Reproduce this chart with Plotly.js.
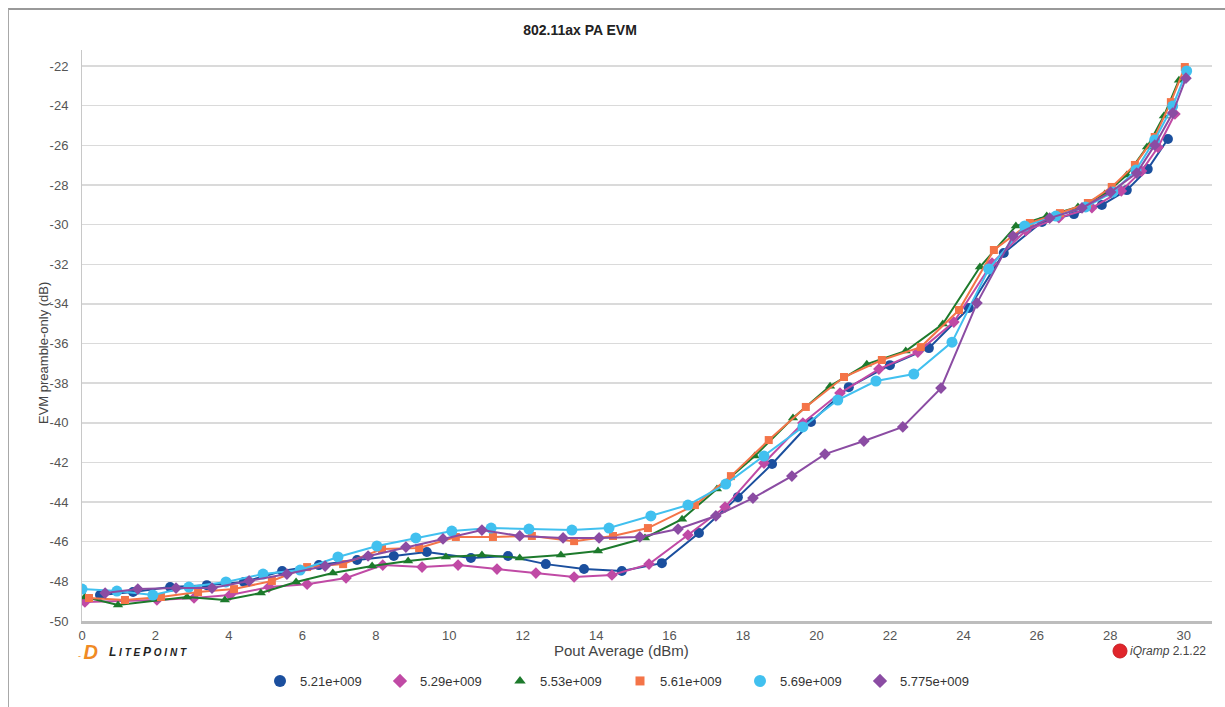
<!DOCTYPE html>
<html>
<head>
<meta charset="utf-8">
<script src="https://cdn.plot.ly/plotly-3.0.1.min.js"></script>
<style>
  html, body { margin: 0; padding: 0; background: #fff; }
  #chart { position: absolute; left: 0; top: 0; width: 1225px; height: 707px; }
  #frame { position: absolute; left: 8px; top: 8px; width: 1300px; height: 800px;
           border-left: 1px solid #a8a8a8; border-top: 2px solid #999; pointer-events: none; }
</style>
</head>
<body>
<div id="chart"></div>
<div id="frame"></div>
<script>
// ---- data ----
const seriesNames = ["5.21e+009", "5.29e+009", "5.53e+009", "5.61e+009", "5.69e+009", "5.775e+009"];

const x521 = [0.49, 1.39, 2.40, 3.40, 4.41, 5.45, 6.45, 7.49, 8.49, 9.39, 10.59, 11.60, 12.63, 13.67, 14.70, 15.79, 16.80, 17.86, 18.79, 19.85, 20.88, 22.00, 23.06, 24.15, 25.10, 26.14, 27.01, 27.77, 28.45, 29.02, 29.57];
const y521 = [-48.69, -48.54, -48.29, -48.19, -48.03, -47.48, -47.18, -46.92, -46.72, -46.52, -46.82, -46.72, -47.13, -47.38, -47.48, -47.08, -45.56, -43.75, -42.08, -39.96, -38.20, -37.09, -36.23, -34.21, -31.43, -29.87, -29.47, -29.01, -28.26, -27.20, -25.68];

const x529 = [0.08, 2.04, 3.05, 4.03, 5.09, 6.13, 7.19, 8.19, 9.26, 10.24, 11.30, 12.36, 13.40, 14.43, 15.44, 16.50, 17.51, 18.57, 19.63, 20.64, 21.70, 22.76, 23.74, 24.78, 25.70, 26.60, 27.50, 28.30, 28.85, 29.30, 29.76];
const y529 = [-49.04, -48.94, -48.84, -48.69, -48.29, -48.14, -47.83, -47.18, -47.28, -47.18, -47.38, -47.58, -47.78, -47.68, -47.13, -45.66, -44.25, -42.03, -40.01, -38.50, -37.29, -36.43, -34.92, -31.94, -30.30, -29.65, -29.15, -28.30, -27.30, -26.10, -24.42];

const x553 = [0.08, 0.98, 2.86, 3.89, 4.87, 5.83, 6.83, 7.90, 8.88, 9.91, 10.89, 11.92, 13.04, 14.05, 15.33, 16.34, 17.29, 18.32, 19.36, 20.37, 21.37, 22.43, 23.44, 24.45, 25.43, 26.27, 27.12, 27.85, 28.45, 29.00, 29.46, 29.87];
const y553 = [-48.79, -49.19, -48.79, -48.94, -48.59, -48.03, -47.58, -47.23, -46.97, -46.77, -46.67, -46.82, -46.67, -46.47, -45.81, -44.86, -43.34, -41.68, -39.76, -38.15, -37.04, -36.38, -35.02, -32.14, -30.07, -29.57, -29.11, -28.46, -27.50, -26.09, -24.52, -22.71];

const x561 = [0.19, 1.17, 2.15, 3.16, 4.14, 5.17, 6.13, 7.11, 8.17, 9.18, 10.18, 11.19, 12.25, 13.40, 14.46, 15.41, 16.69, 17.67, 18.70, 19.71, 20.75, 21.78, 22.84, 23.88, 24.83, 25.81, 26.63, 27.39, 28.04, 28.67, 29.21, 29.65, 30.03];
const y561 = [-48.84, -48.94, -48.79, -48.54, -48.39, -47.98, -47.28, -47.13, -46.37, -46.32, -45.76, -45.76, -45.71, -45.97, -45.71, -45.31, -44.15, -42.69, -40.87, -39.20, -37.69, -36.83, -36.18, -34.31, -31.28, -29.92, -29.42, -28.91, -28.10, -26.99, -25.58, -23.82, -22.05];

const x569 = [0.00, 0.95, 1.93, 2.91, 3.92, 4.93, 5.94, 6.97, 8.03, 9.09, 10.07, 11.14, 12.17, 13.34, 14.35, 15.49, 16.50, 17.53, 18.57, 19.63, 20.58, 21.62, 22.65, 23.69, 24.69, 25.67, 26.52, 27.33, 28.07, 28.70, 29.21, 29.70, 30.08];
const y569 = [-48.39, -48.49, -48.69, -48.29, -48.03, -47.63, -47.43, -46.77, -46.22, -45.81, -45.46, -45.31, -45.36, -45.41, -45.31, -44.70, -44.15, -43.09, -41.68, -40.21, -38.85, -37.89, -37.54, -35.93, -32.24, -30.07, -29.57, -29.11, -28.36, -27.25, -25.73, -24.02, -22.25];

const x5775 = [0.63, 1.52, 2.56, 3.54, 4.55, 5.58, 6.62, 7.79, 8.82, 9.83, 10.89, 11.92, 13.10, 14.08, 15.19, 16.23, 17.26, 18.27, 19.33, 20.23, 21.29, 22.35, 23.39, 24.37, 25.35, 26.35, 27.23, 28.01, 28.72, 29.21, 29.70, 30.06];
const y5775 = [-48.59, -48.39, -48.34, -48.34, -47.98, -47.63, -47.23, -46.72, -46.27, -45.86, -45.41, -45.71, -45.81, -45.81, -45.76, -45.36, -44.70, -43.80, -42.69, -41.58, -40.92, -40.21, -38.25, -33.96, -30.58, -29.67, -29.16, -28.36, -27.40, -25.99, -24.37, -22.61];

const xTicks = [0, 2, 4, 6, 8, 10, 12, 14, 16, 18, 20, 22, 24, 26, 28, 30];
const yTicks = [-50, -48, -46, -44, -42, -40, -38, -36, -34, -32, -30, -28, -26, -24, -22];

// ---- styles ----
const xs = [x521, x529, x553, x561, x569, x5775];
const ys = [y521, y529, y553, y561, y569, y5775];
const colors = ["#1b4f9e", "#c04aa5", "#1d7a2c", "#f47448", "#41c0ef", "#8b4ca3"];
const symbols = ["circle", "diamond", "triangle-up", "square", "circle", "diamond"];
const sizes = [10, 9, 9, 8, 11, 9];

const traces = seriesNames.map((n, i) => ({
  type: "scatter", mode: "lines+markers", name: n, showlegend: false,
  x: xs[i], y: ys[i],
  line: { color: colors[i], width: 2 },
  marker: { color: colors[i], symbol: symbols[i], size: sizes[i] }
}));
// legend entries: marker-only keys, as in the reference legend
const legendSizes = [12, 11, 10, 9, 12, 11];
const legendTraces = seriesNames.map((n, i) => ({
  type: "scatter", mode: "markers", name: n, showlegend: true,
  x: [null], y: [null],
  marker: { color: colors[i], symbol: symbols[i], size: legendSizes[i] }
}));

const F = "Arial, 'Liberation Sans', sans-serif";
const L = 82, R = 13, T = 50, B = 86;
const PW = 1225 - L - R, PH = 707 - T - B;
const px = v => (v - L) / PW;
const py = v => (707 - B - v) / PH;

const layout = {
  width: 1225, height: 707,
  margin: { l: L, r: R, t: T, b: B, pad: 0, autoexpand: false },
  paper_bgcolor: "#fff", plot_bgcolor: "#fff",
  font: { family: F, color: "#444", size: 13 },
  title: { text: "<b>802.11ax PA EVM</b>", font: { family: F, size: 14, color: "#222" },
           x: 580 / 1225, xanchor: "center", xref: "container", y: 1 - 30 / 707, yanchor: "middle", yref: "container" },
  xaxis: {
    range: [0, 30.77], tickvals: xTicks, ticktext: xTicks.map(String),
    showgrid: false, zeroline: false,
    showline: true, linecolor: "#bdbdbd", linewidth: 3,
    ticks: "", tickfont: { family: F, size: 13, color: "#555" }
  },
  yaxis: {
    range: [-50, -21.19], tickvals: yTicks, ticktext: yTicks.map(String),
    showgrid: true, gridcolor: "#dadada", gridwidth: 1.5, zeroline: false,
    showline: true, linecolor: "#c8c8c8", linewidth: 1,
    ticks: "", ticklabelstandoff: 10, tickfont: { family: F, size: 13, color: "#555" }
  },
  showlegend: true,
  legend: {
    orientation: "h", x: px(620), xanchor: "center",
    y: py(681), yanchor: "middle",
    font: { family: F, size: 13, color: "#333" },
    entrywidth: 75, entrywidthmode: "pixels", itemwidth: 30,
    bgcolor: "rgba(0,0,0,0)"
  },
  shapes: [
    { type: "circle", xref: "paper", yref: "paper", xsizemode: "pixel", ysizemode: "pixel",
      xanchor: px(1120), yanchor: py(651), x0: -7, x1: 7, y0: -7, y1: 7,
      fillcolor: "#e0252b", line: { color: "#c81c22", width: 1 } }
  ],
  annotations: [
    { xref: "paper", yref: "paper", x: px(621), y: py(650), xanchor: "center", yanchor: "middle", showarrow: false,
      text: "Pout Average (dBm)", font: { family: F, size: 15, color: "#444" } },
    { xref: "paper", yref: "paper", x: px(43), y: py(353), xanchor: "center", yanchor: "middle", showarrow: false,
      textangle: -90, text: "EVM preamble-only (dB)", font: { family: F, size: 13, color: "#444" } },
    { xref: "paper", yref: "paper", x: px(76), y: py(652), xanchor: "left", yanchor: "middle", showarrow: false,
      text: "<span style='font-size:9px'>- </span><b><i>D</i></b>", font: { family: F, size: 20, color: "#f08a24" } },
    { xref: "paper", yref: "paper", x: px(107), y: py(652), xanchor: "left", yanchor: "middle", showarrow: false,
      text: "<b><i><span style='font-size:12px'>L</span> I T E <span style='font-size:12px'>P</span> O I N T</i></b>",
      font: { family: F, size: 10, color: "#222" } },
    { xref: "paper", yref: "paper", x: px(1128), y: py(651), xanchor: "left", yanchor: "middle", showarrow: false,
      text: "<i>iQramp</i> 2.1.22", font: { family: F, size: 12, color: "#444" } }
  ]
};

Plotly.newPlot("chart", traces.concat(legendTraces), layout, { displayModeBar: false, staticPlot: true });
</script>
</body>
</html>
